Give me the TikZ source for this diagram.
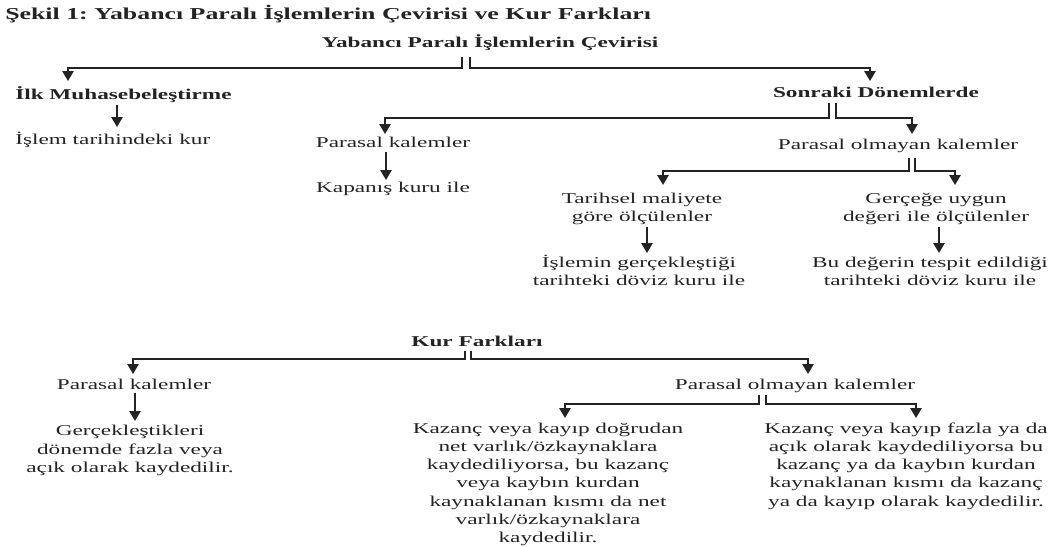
\documentclass[tikz,border=0pt]{standalone}
\usepackage{fontspec}
\setmainfont[FakeStretch=1.55]{Liberation Serif}
\usetikzlibrary{arrows.meta}
\definecolor{ink}{RGB}{35,35,35}
\frenchspacing
\begin{document}
\begin{tikzpicture}[x=0.75pt,y=-0.75pt,
  txt/.style={font=\fontsize{11.25}{13.7}\selectfont, inner sep=0pt, anchor=base, align=center, text=ink},
  btxt/.style={txt, font=\fontsize{11.25}{13.7}\selectfont\bfseries},
  conn/.style={draw=ink, line width=1.4pt},
  arr/.style={conn, -{Triangle[width=8.5pt,length=7.5pt]}}]
\useasboundingbox (0,0) rectangle (1063,546);
% ---- nodes, upper part (multi-line nodes: base = baseline of last line)
\node[btxt, anchor=base west, font=\fontsize{12.5}{15}\selectfont\bfseries] (title) at (5,19) {Şekil 1: Yabancı Paralı İşlemlerin Çevirisi ve Kur Farkları};
\node[btxt] (top) at (490,47) {Yabancı Paralı İşlemlerin Çevirisi};
\node[btxt, anchor=base west] (ilk) at (15,99) {İlk Muhasebeleştirme};
\node[txt, anchor=base west] (ilkk) at (15,144) {İşlem tarihindeki kur};
\node[btxt] (sonr) at (876,97) {Sonraki Dönemlerde};
\node[txt] (pk1) at (393,147) {Parasal kalemler};
\node[txt] (kap) at (393,192) {Kapanış kuru ile};
\node[txt] (pok1) at (898,149) {Parasal olmayan kalemler};
\node[txt] (tar) at (642,221.3) {Tarihsel maliyete\\göre ölçülenler};
\node[txt] (isl) at (639,285.3) {İşlemin gerçekleştiği\\tarihteki döviz kuru ile};
\node[txt] (ger) at (936,221.3) {Gerçeğe uygun\\değeri ile ölçülenler};
\node[txt] (bu) at (930,285.3) {Bu değerin tespit edildiği\\tarihteki döviz kuru ile};
% ---- nodes, lower part
\node[btxt] (kur) at (477,346) {Kur Farkları};
\node[txt] (pk2) at (134,389) {Parasal kalemler};
\node[txt] (gerc) at (130,472.5) {Gerçekleştikleri\\dönemde fazla veya\\açık olarak kaydedilir.};
\node[txt] (pok2) at (795,389) {Parasal olmayan kalemler};
\node[txt] (kaz1) at (548,542.6) {Kazanç veya kayıp doğrudan\\net varlık/özkaynaklara\\kaydediliyorsa, bu kazanç\\veya kaybın kurdan\\kaynaklanan kısmı da net\\varlık/özkaynaklara\\kaydedilir.};
\node[txt] (kaz2) at (906,506.1) {Kazanç veya kayıp fazla ya da\\açık olarak kaydediliyorsa bu\\kazanç ya da kaybın kurdan\\kaynaklanan kısmı da kazanç\\ya da kayıp olarak kaydedilir.};
% ---- connector points
\coordinate (s1a) at (462,57); \coordinate (s1b) at (470,57); \coordinate (h1) at (0,68);
\coordinate (t1a) at (68,81); \coordinate (t1b) at (870,81);
\coordinate (ilks) at (117,105); \coordinate (ilkt) at (117,127);
\coordinate (s2a) at (829,103); \coordinate (s2b) at (836,103); \coordinate (h2) at (0,118);
\coordinate (t2a) at (385,134); \coordinate (t2b) at (912,134);
\coordinate (pk1s) at (386,152); \coordinate (pk1t) at (386,180);
\coordinate (s3a) at (909,158); \coordinate (s3b) at (915,158); \coordinate (h3) at (0,171);
\coordinate (t3a) at (663,185); \coordinate (t3b) at (955,185);
\coordinate (tars) at (647,227); \coordinate (tart) at (647,253);
\coordinate (gers) at (939,227); \coordinate (gert) at (939,253);
\coordinate (s4a) at (465,351); \coordinate (s4b) at (471,351); \coordinate (h4) at (0,359);
\coordinate (t4a) at (133,374); \coordinate (t4b) at (808,374);
\coordinate (pk2s) at (135,393); \coordinate (pk2t) at (135,421);
\coordinate (s5a) at (759,395); \coordinate (s5b) at (766,395); \coordinate (h5) at (0,404);
\coordinate (t5a) at (565,418); \coordinate (t5b) at (916,418);
% ---- connectors
\draw[arr] (s1a) -- (s1a |- h1) -| (t1a);
\draw[arr] (s1b) -- (s1b |- h1) -| (t1b);
\draw[arr] (ilks) -- (ilkt);
\draw[arr] (s2a) -- (s2a |- h2) -| (t2a);
\draw[arr] (s2b) -- (s2b |- h2) -| (t2b);
\draw[arr] (pk1s) -- (pk1t);
\draw[arr] (s3a) -- (s3a |- h3) -| (t3a);
\draw[arr] (s3b) -- (s3b |- h3) -| (t3b);
\draw[arr] (tars) -- (tart);
\draw[arr] (gers) -- (gert);
\draw[arr] (s4a) -- (s4a |- h4) -| (t4a);
\draw[arr] (s4b) -- (s4b |- h4) -| (t4b);
\draw[arr] (pk2s) -- (pk2t);
\draw[arr] (s5a) -- (s5a |- h5) -| (t5a);
\draw[arr] (s5b) -- (s5b |- h5) -| (t5b);
\end{tikzpicture}
\end{document}
